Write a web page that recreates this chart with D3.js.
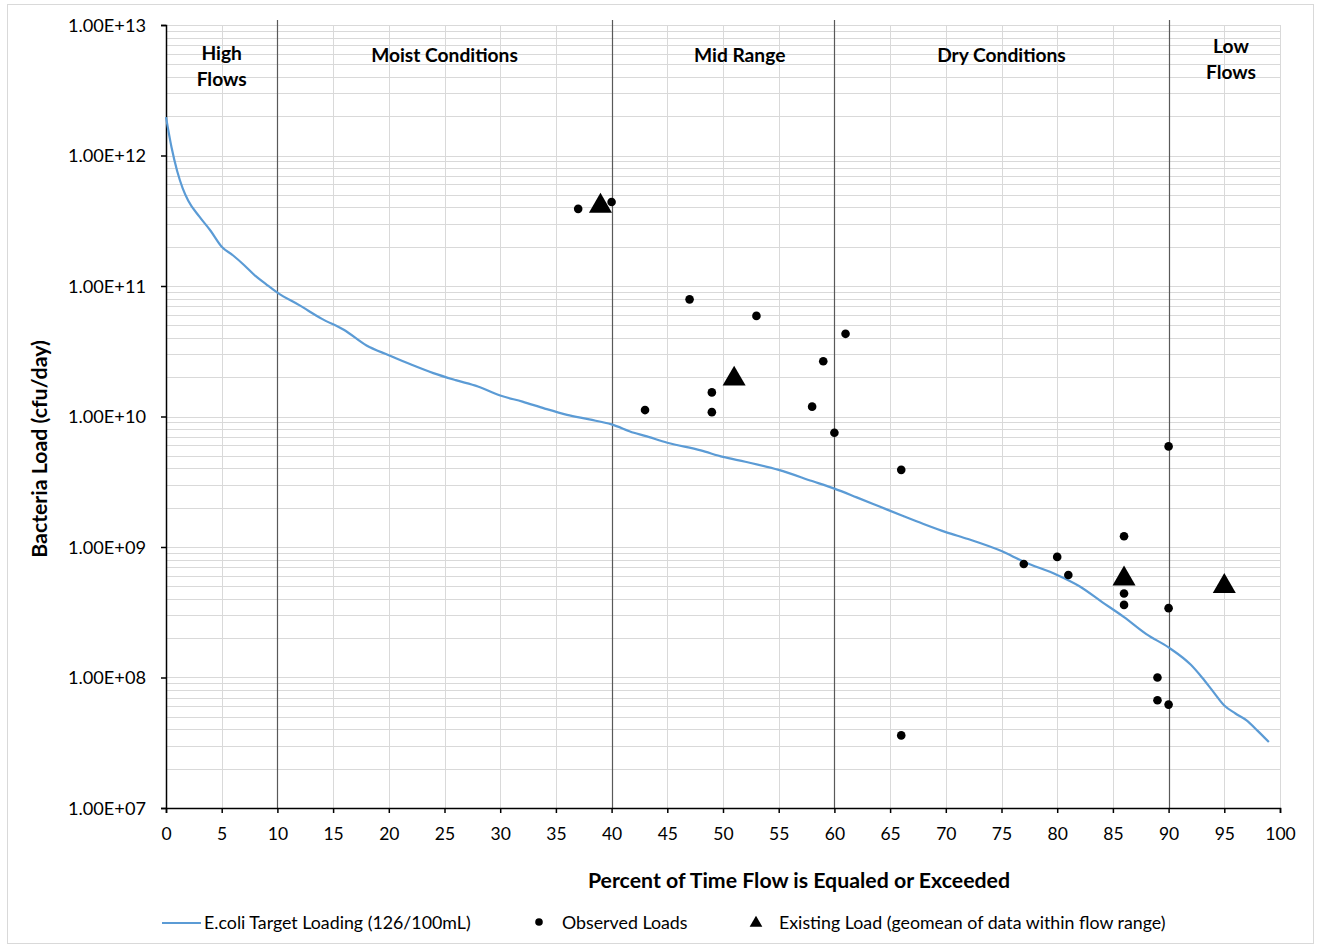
<!DOCTYPE html>
<html><head><meta charset="utf-8">
<script src="https://cdn.jsdelivr.net/npm/d3@7"></script>
<style>body{margin:0;background:#fff;} svg{display:block;font-family:Lato,"Open Sans",sans-serif;}</style>
</head><body>
<svg id="chart" width="1320" height="949"></svg>
<script>
// ---- data ----
const curvePct = [0,0.5,1,1.5,2,3,4,5,6,7,8,9,10,12,14,16,18,20,22,24,26,28,30,32,34,36,38,40,42,43,45,48,50,52,55,58,60,62,64,66,68,70,72,75,77,80,82,84,86,88,90,92,93,94,95,96,97,98,99];
const curveLoad = [1.97e12,1.15e12,7.6e11,5.6e11,4.5e11,3.4e11,2.65e11,2.0e11,1.72e11,1.45e11,1.2e11,1.03e11,8.9e10,7.1e10,5.6e10,4.6e10,3.5e10,2.95e10,2.5e10,2.15e10,1.9e10,1.7e10,1.45e10,1.3e10,1.15e10,1.03e10,9.5e9,8.7e9,7.5e9,7.1e9,6.3e9,5.5e9,4.9e9,4.5e9,3.9e9,3.2e9,2.8e9,2.4e9,2.05e9,1.75e9,1.5e9,1.3e9,1.15e9,9.3e8,7.7e8,6.1e8,5.0e8,3.8e8,2.9e8,2.15e8,1.7e8,1.25e8,1.0e8,7.8e7,6.1e7,5.3e7,4.7e7,3.9e7,3.2e7];
const obsPct  = [37,40,47,53,61,59,49,43,49,58,60,66,66,90,86,80,77,81,86,86,90,89,89,90];
const obsLoad = [3.9e11,4.4e11,7.9e10,5.9e10,4.3e10,2.65e10,1.53e10,1.12e10,1.08e10,1.19e10,7.5e9,3.9e9,3.6e7,5.9e9,1.21e9,8.4e8,7.4e8,6.1e8,4.4e8,3.6e8,3.4e8,1.0e8,6.7e7,6.2e7];
const existPct  = [39,51,86,95];
const existLoad = [4.1e11,1.94e10,5.7e8,5.0e8];
const dividers = [10,40,60,90];
const regionNames = [["High","Flows"],["Moist Conditions"],["Mid Range"],["Dry Conditions"],["Low","Flows"]];
const regionPos = [5,25,51.5,75,95.6];
const xTicks = d3.range(0,101,5);
const yTicks = [1e7,1e8,1e9,1e10,1e11,1e12,1e13];
const legendLabels = ["E.coli Target Loading (126/100mL)","Observed Loads","Existing Load (geomean of data within flow range)"];

// ---- layout ----
const svg = d3.select("#chart");
const L=166, R=1280, T=25, B=808;
const x = d3.scaleLinear().domain([0,100]).range([L,R]);
const y = d3.scaleLog().domain([1e7,1e13]).range([B,T]);

svg.append("rect").attr("x",7.5).attr("y",4.5).attr("width",1306).attr("height",939)
  .attr("fill","#fff").attr("stroke","#d9d9d9").attr("stroke-width",1);

// minor + major horizontal gridlines
const hGrid = [];
for (let e=7;e<13;e++) for (let m=1;m<10;m++) hGrid.push(m*Math.pow(10,e));
hGrid.push(1e13);
svg.append("g").selectAll("line").data(hGrid).join("line")
  .attr("x1",L).attr("x2",R).attr("y1",d=>Math.round(y(d))+0.5).attr("y2",d=>Math.round(y(d))+0.5)
  .attr("stroke","#d9d9d9").attr("stroke-width",1);
// vertical gridlines
svg.append("g").selectAll("line").data(xTicks.filter(d=>d>0)).join("line")
  .attr("x1",d=>Math.round(x(d))+0.5).attr("x2",d=>Math.round(x(d))+0.5).attr("y1",T).attr("y2",B)
  .attr("stroke","#d9d9d9").attr("stroke-width",1);
// dividers
svg.append("g").selectAll("line").data(dividers).join("line")
  .attr("x1",d=>Math.round(x(d))+0.5).attr("x2",d=>Math.round(x(d))+0.5).attr("y1",T-5).attr("y2",B)
  .attr("stroke","#595959").attr("stroke-width",1.2);

// axes
const xAxis = d3.axisBottom(x).tickValues(xTicks).tickSize(5).tickPadding(15).tickFormat(d3.format("d"));
const gx = svg.append("g").attr("transform",`translate(0,${B})`).call(xAxis);
const yAxis = d3.axisLeft(y).tickValues(yTicks).tickSize(5).tickPadding(15)
  .tickFormat(d=>{const e=Math.round(Math.log10(d));return "1.00E+"+(e<10?"0"+e:e);});
const gy = svg.append("g").attr("transform",`translate(${L},0)`).call(yAxis);
[gx,gy].forEach(g=>{
  g.select(".domain").attr("stroke","#000").attr("stroke-width",1.5);
  g.selectAll(".tick line").attr("stroke","#000").attr("stroke-width",1.5);
  g.selectAll("text").attr("fill","#000").attr("font-family","Lato");
});
gx.selectAll("text").attr("font-size",17.5);
gy.selectAll("text").attr("font-size",18.2).attr("dy","0.35em");

// region labels
regionNames.forEach((lines,i)=>{
  const t = svg.append("text").attr("x",x(regionPos[i])).attr("text-anchor","middle")
    .attr("font-weight","bold").attr("font-size",19.2).attr("fill","#000");
  const y0 = lines.length===2 ? (i===0?60:53) : 62;
  lines.forEach((s,j)=>t.append("tspan").attr("x",x(regionPos[i])).attr("y",y0+j*26).text(s));
});

// curve
const curve = curvePct.map((p,i)=>[p,curveLoad[i]]);
svg.append("path").datum(curve)
  .attr("d",d3.line().curve(d3.curveMonotoneX).x(d=>x(d[0])).y(d=>y(d[1])))
  .attr("fill","none").attr("stroke","#5b9bd5").attr("stroke-width",2.2);

// observed
svg.append("g").selectAll("circle").data(obsPct.map((p,i)=>[p,obsLoad[i]])).join("circle")
  .attr("cx",d=>x(d[0])).attr("cy",d=>y(d[1])).attr("r",4.3).attr("fill","#000");

// existing (triangles)
const tri = d3.symbol().type(d3.symbolTriangle).size(230);
svg.append("g").selectAll("path").data(existPct.map((p,i)=>[p,existLoad[i]])).join("path")
  .attr("d",tri).attr("transform",d=>`translate(${x(d[0])},${y(d[1])})`).attr("fill","#000");

// axis titles
svg.append("text").attr("x",799).attr("y",888).attr("text-anchor","middle")
  .attr("font-weight","bold").attr("font-size",21.3).text("Percent of Time Flow is Equaled or Exceeded");
svg.append("text").attr("transform","translate(47,449) rotate(-90)").attr("text-anchor","middle")
  .attr("font-weight","bold").attr("font-size",21.3).text("Bacteria Load (cfu/day)");

// legend
const ly = 923;
svg.append("line").attr("x1",162).attr("x2",201).attr("y1",ly).attr("y2",ly).attr("stroke","#5b9bd5").attr("stroke-width",2.2);
svg.append("text").attr("x",204).attr("y",ly).attr("dy","0.35em").attr("font-size",17.8).text(legendLabels[0]);
svg.append("circle").attr("cx",539).attr("cy",ly-1).attr("r",3.8).attr("fill","#000");
svg.append("text").attr("x",562).attr("y",ly).attr("dy","0.35em").attr("font-size",17.8).text(legendLabels[1]);
svg.append("path").attr("d",d3.symbol().type(d3.symbolTriangle).size(70)).attr("transform",`translate(756,${ly})`).attr("fill","#000");
svg.append("text").attr("x",779).attr("y",ly).attr("dy","0.35em").attr("font-size",17.8).text(legendLabels[2]);
</script>
</body></html>
